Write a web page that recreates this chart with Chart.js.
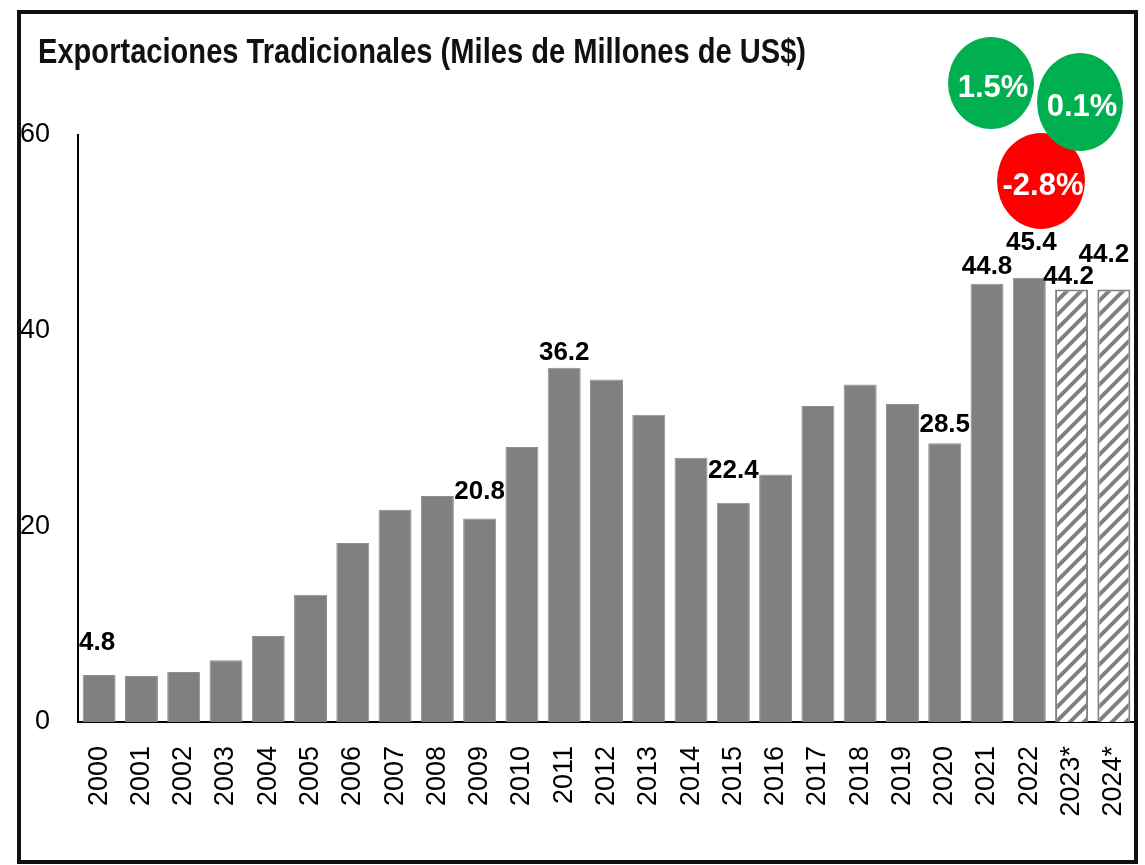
<!DOCTYPE html>
<html>
<head>
<meta charset="utf-8">
<script src="https://cdn.jsdelivr.net/npm/chart.js@4.4.0/dist/chart.umd.min.js"></script>
<style>
  html, body { margin: 0; background: #fff; }
  #wrap { width: 1145px; height: 865px; position: relative; }
</style>
</head>
<body>
<div id="wrap"><canvas id="chart"></canvas></div>
<script>
// data
const years = ['2000','2001','2002','2003','2004','2005','2006','2007','2008','2009','2010','2011','2012',
  '2013','2014','2015','2016','2017','2018','2019','2020','2021','2022','2023*','2024*'];
const exportsBn = [4.8, 4.7, 5.1, 6.3, 8.8, 13.0, 18.3, 21.7, 23.1, 20.8, 28.1, 36.2, 35.0,
  31.4, 27.0, 22.4, 25.3, 32.3, 34.5, 32.5, 28.5, 44.8, 45.4, 44.2, 44.2];
const projectedYears = ['2023*', '2024*'];
const labeledYears = ['2000', '2009', '2011', '2015', '2020', '2021', '2022', '2023*', '2024*'];
const yTickValues = [0, 20, 40, 60];
const growthLabels = ['1.5%', '-2.8%', '0.1%'];
const growthSigns = [1, -1, 1];

const TITLE = 'Exportaciones Tradicionales (Miles de Millones de US$)';
const NARROW = '"Liberation Sans Narrow", "Liberation Sans", Arial, sans-serif';

// where each value label sits above its bar (px above bar top, horizontal nudge)
const labelPlace = {
  '2000': [32, -2], '2009': [27, 0], '2011': [15, 0], '2015': [32, 0], '2020': [18, 0],
  '2021': [17, 0], '2022': [35, 2], '2023*': [13, -3], '2024*': [35, -10]
};
// growth bubbles: centre x, centre y, radius x, radius y
const bubblePlace = [[991, 83, 43, 46], [1041, 181, 44, 48], [1080, 102, 43, 49]];

function hatch() {
  const c = document.createElement('canvas');
  c.width = 14; c.height = 14;
  const g = c.getContext('2d');
  g.fillStyle = '#fff';
  g.fillRect(0, 0, 14, 14);
  g.strokeStyle = '#808080';
  g.lineWidth = 4;
  g.beginPath();
  g.moveTo(-2, 16); g.lineTo(16, -2);
  g.moveTo(-9, 9); g.lineTo(9, -9);
  g.moveTo(5, 23); g.lineTo(23, 5);
  g.stroke();
  return g.createPattern(c, 'repeat');
}
const hatchFill = hatch();

const isProj = years.map(y => projectedYears.includes(y));

const decorPlugin = {
  id: 'decor',
  afterDatasetsDraw(chart) {
    const ctx = chart.ctx;
    const meta = chart.getDatasetMeta(0);
    ctx.save();
    ctx.fillStyle = '#000';
    ctx.font = 'bold 26px ' + NARROW;
    ctx.textAlign = 'center';
    ctx.textBaseline = 'middle';
    years.forEach((y, i) => {
      if (!labeledYears.includes(y)) return;
      const bar = meta.data[i];
      const [up, dx] = labelPlace[y] || [16, 0];
      ctx.fillText(exportsBn[i].toFixed(1), bar.x + dx, bar.y - up);
    });
    ctx.restore();
  },
  afterDraw(chart) {
    const ctx = chart.ctx;
    ctx.save();
    // title, squeezed to the reference width
    ctx.font = 'bold 35px ' + NARROW;
    ctx.fillStyle = '#111';
    ctx.textBaseline = 'alphabetic';
    const w = ctx.measureText(TITLE).width;
    const sx = Math.min(1, 768 / w);
    ctx.translate(38, 63);
    ctx.scale(sx, 1);
    ctx.fillText(TITLE, 0, 0);
    ctx.setTransform(1, 0, 0, 1, 0, 0);

    // growth bubbles
    growthLabels.forEach((txt, i) => {
      const [cx, cy, rx, ry] = bubblePlace[i];
      ctx.beginPath();
      ctx.ellipse(cx, cy, rx, ry, 0, 0, Math.PI * 2);
      ctx.fillStyle = growthSigns[i] < 0 ? '#ff0000' : '#00b050';
      ctx.fill();
      ctx.fillStyle = '#fff';
      ctx.font = 'bold 31px ' + NARROW;
      ctx.textAlign = 'center';
      ctx.textBaseline = 'middle';
      ctx.fillText(txt, cx + 2, cy + 5);
    });

    // outer frame
    ctx.strokeStyle = '#111';
    ctx.lineWidth = 4;
    ctx.strokeRect(19, 12, 1117, 850);
    ctx.restore();
  }
};

new Chart(document.getElementById('chart'), {
  type: 'bar',
  data: {
    labels: years,
    datasets: [{
      label: 'Exportaciones Tradicionales',
      data: exportsBn,
      backgroundColor: isProj.map(p => p ? hatchFill : '#808080'),
      borderColor: isProj.map(p => p ? '#808080' : '#8f8f8f'),
      borderWidth: isProj.map(p => p ? 2 : 1),
      barPercentage: 0.78,
      categoryPercentage: 1.0
    }]
  },
  options: {
    responsive: true,
    maintainAspectRatio: false,
    animation: false,
    layout: { padding: { top: 135, right: 10, left: 0, bottom: 0 } },
    plugins: {
      legend: { display: false },
      title: { display: false },
      tooltip: { enabled: false }
    },
    scales: {
      x: {
        grid: { display: false, drawTicks: false },
        border: { color: '#000', width: 2 },
        ticks: {
          color: '#000',
          font: { family: '"Liberation Sans", Arial, sans-serif', size: 27 },
          minRotation: 90, maxRotation: 90,
          autoSkip: false,
          padding: 24
        },
        afterFit: s => { s.height = 143; s.paddingLeft = 0; s.paddingRight = 0; }
      },
      y: {
        min: 0, max: 60,
        afterBuildTicks: s => { s.ticks = yTickValues.map(v => ({ value: v })); },
        grid: { display: false, drawTicks: false },
        border: { color: '#000', width: 2 },
        ticks: {
          color: '#000',
          font: { family: NARROW, size: 27 },
          padding: 28
        },
        afterFit: s => { s.width = 78; s.paddingTop = 0; s.paddingBottom = 0; }
      }
    }
  },
  plugins: [decorPlugin]
});
</script>
</body>
</html>
